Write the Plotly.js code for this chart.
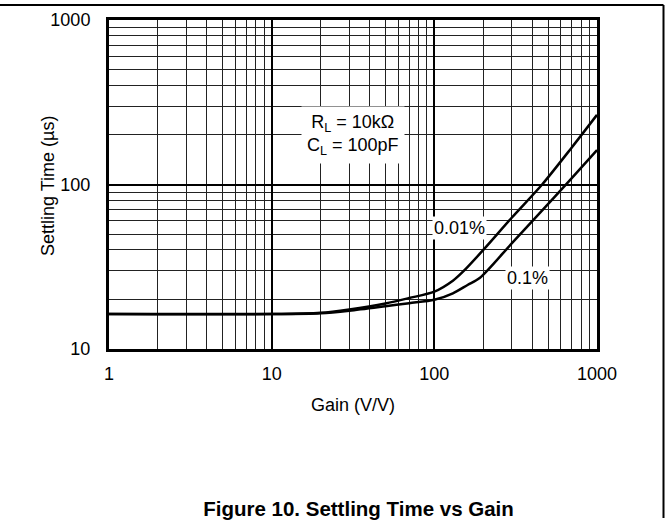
<!DOCTYPE html>
<html>
<head>
<meta charset="utf-8">
<script src="https://cdn.plot.ly/plotly-3.0.1.min.js"></script>
<style>
  html, body { margin: 0; padding: 0; background: #fff; }
  #chart { width: 669px; height: 521px; }
</style>
</head>
<body>
<div id="chart"></div>
<script>
// Gain (V/V) sample points and settling times (µs)
const gain001 = [1, 10, 20, 30, 50, 70, 100, 130, 150, 200, 300, 460, 700, 1000];
const settle001 = [16.3, 16.3, 16.6, 17.4, 18.9, 20.4, 22.3, 26, 29.5, 40, 63, 100, 168, 265];

const gain01 = [1, 10, 20, 30, 50, 70, 100, 130, 160, 190, 300, 450, 680, 1000];
const settle01 = [16.3, 16.3, 16.5, 17.1, 18.2, 19.0, 19.9, 21.8, 24.5, 27, 44, 68, 106, 162];

const seriesNames = ['0.01%', '0.1%'];

const xTickVals = [1, 10, 100, 1000];
const xTickText = ['1', '10', '100', '1000'];
const yTickVals = [10, 100, 1000];
const yTickText = ['10', '100', '1000'];
const xMinorVals = [2,3,4,5,6,7,8,9,20,30,40,50,60,70,80,90,200,300,400,500,600,700,800,900];
const yMinorVals = [20,30,40,50,60,70,80,90,200,300,400,500,600,700,800,900];

const conditionsText = 'R<sub>L</sub> = 10kΩ<br>C<sub>L</sub> = 100pF';
const chartTitle = '<b>Figure 10. Settling Time vs Gain</b>';
const xTitle = 'Gain (V/V)';
const yTitle = 'Settling Time (µs)';

const FONT = 'Liberation Sans, Arial, Helvetica, sans-serif';

const traces = [
  { x: gain001, y: settle001, name: seriesNames[0], mode: 'lines',
    line: { color: '#000', width: 2.5, shape: 'spline', smoothing: 0.8 } },
  { x: gain01, y: settle01, name: seriesNames[1], mode: 'lines',
    line: { color: '#000', width: 2.5, shape: 'spline', smoothing: 0.8 } }
];

const axisCommon = {
  type: 'log',
  showgrid: true, gridcolor: '#000', gridwidth: 2,
  showline: true, linecolor: '#000', linewidth: 3, mirror: true,
  ticks: '', zeroline: false,
  tickfont: { family: FONT, size: 18, color: '#000' }
};

const layout = {
  width: 669, height: 521,
  margin: { l: 109, r: 72, t: 20, b: 172 },
  paper_bgcolor: '#fff', plot_bgcolor: '#fff',
  showlegend: false,
  font: { family: FONT, size: 18, color: '#000' },
  title: { text: chartTitle, font: { family: FONT, size: 20.5, color: '#000' },
           xref: 'container', x: 358.5/669, xanchor: 'center',
           yref: 'container', y: 1 - 509/521, yanchor: 'middle' },
  xaxis: Object.assign({}, axisCommon, {
    range: [0, 3], tickmode: 'array', tickvals: xTickVals, ticktext: xTickText,
    ticklabelstandoff: 6,
    minor: { tickmode: 'array', tickvals: xMinorVals, showgrid: true, gridcolor: '#222', gridwidth: 1, ticks: '' },
    title: { text: xTitle, font: { family: FONT, size: 18, color: '#000' }, standoff: 16 }
  }),
  yaxis: Object.assign({}, axisCommon, {
    range: [1, 3], tickmode: 'array', tickvals: yTickVals, ticktext: yTickText,
    ticklabelstandoff: 12,
    minor: { tickmode: 'array', tickvals: yMinorVals, showgrid: true, gridcolor: '#222', gridwidth: 1, ticks: '' }
  }),
  annotations: [
    { xref: 'paper', yref: 'paper', x: (48-109)/488, y: (349-186)/329, text: yTitle,
      textangle: -90, showarrow: false, xanchor: 'center', yanchor: 'middle',
      font: { family: FONT, size: 18, color: '#000' } },
    { xref: 'paper', yref: 'paper', x: 0.499, y: 0.649, text: conditionsText,
      xanchor: 'center', yanchor: 'middle',
      showarrow: false, bgcolor: '#fff', borderpad: 5, align: 'center',
      font: { family: FONT, size: 18, color: '#000' } },
    { xref: 'paper', yref: 'paper', x: 0.718, y: 0.369, text: seriesNames[0],
      xanchor: 'center', yanchor: 'middle',
      showarrow: false, bgcolor: '#fff', borderpad: 1,
      font: { family: FONT, size: 18, color: '#000' } },
    { xref: 'paper', yref: 'paper', x: 0.857, y: 0.217, text: seriesNames[1],
      xanchor: 'center', yanchor: 'middle',
      showarrow: false, bgcolor: '#fff', borderpad: 1,
      font: { family: FONT, size: 18, color: '#000' } }
  ],
  shapes: [
    { type: 'line', xref: 'paper', yref: 'paper', x0: -109/488, x1: 663.5/488 - 109/488,
      y0: (349-5)/329, y1: (349-5)/329, line: { color: '#000', width: 2 } },
    { type: 'line', xref: 'paper', yref: 'paper', x0: (663.5-109)/488, x1: (663.5-109)/488,
      y0: (349-5)/329, y1: (349-518)/329, line: { color: '#000', width: 2 } }
  ]
};

Plotly.newPlot('chart', traces, layout, { displayModeBar: false, staticPlot: true });
</script>
</body>
</html>
